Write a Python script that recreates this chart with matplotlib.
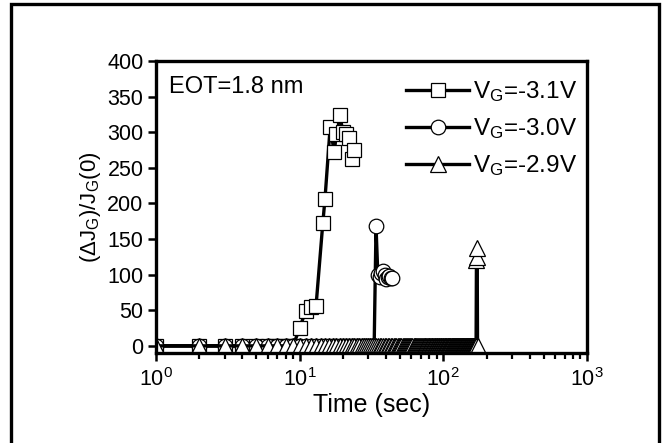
#!/usr/bin/env python3
"""
Gate current change vs. stress time (EOT = 1.8 nm)
"""

import matplotlib.pyplot as plt
from matplotlib.patches import Rectangle

plt.rcParams['font.family'] = ['Liberation Sans', 'DejaVu Sans']
plt.rcParams['mathtext.fontset'] = 'custom'
plt.rcParams['mathtext.rm'] = 'Liberation Sans'
plt.rcParams['mathtext.it'] = 'Liberation Sans'

# V_G = -3.1 V (squares)
sq_t = [1, 2, 3, 4, 5, 6, 7, 8, 9, 10, 11, 12, 13, 14.5, 15, 16.3, 17.4, 18,
        19, 20, 21, 22, 23, 24]
sq_y = [0, 0, 0, 0, 0, 0, 0, 0, 0, 25, 49, 55, 56, 173, 206, 307, 272, 297,
        324, 301, 298, 292, 263, 275]

# V_G = -3.0 V (circles): flat baseline sampled each second, then a jump
circ_base_t = list(range(1, 34))
circ_t = circ_base_t + [34, 35, 36, 37, 38, 39, 40, 41, 42, 43, 44]
circ_y = [0] * len(circ_base_t) + [168, 100, 97, 103, 105, 100, 94, 97,
                                   98, 96, 95]

# V_G = -2.9 V (triangles): flat baseline sampled each second, then a jump
tri_base_t = list(range(1, 170))
tri_t = tri_base_t + [170, 171, 172, 173]
tri_y = [0] * len(tri_base_t) + [120, 125, 137, 0]

labels = [r'$\mathregular{V_G}$=-3.1V', r'$\mathregular{V_G}$=-3.0V',
          r'$\mathregular{V_G}$=-2.9V']

fig = plt.figure(figsize=(6.66, 4.43), dpi=100)
ax = fig.add_axes([156 / 666, 1 - 353 / 443, 431 / 666, 292 / 443])

style = dict(color='black', linewidth=2.4, markerfacecolor='white',
             markeredgecolor='black', markeredgewidth=0.9)
ax.plot(sq_t, sq_y, marker='s', markersize=10, label=labels[0], **style)
ax.plot(circ_t, circ_y, marker='o', markersize=10.5, label=labels[1], **style)
ax.plot(tri_t, tri_y, marker='^', markersize=12, label=labels[2], **style)

ax.set_xscale('log')
ax.set_xlim(1, 1000)
ax.set_ylim(-10, 400)
ax.set_yticks([0, 50, 100, 150, 200, 250, 300, 350, 400])

for sp in ax.spines.values():
    sp.set_linewidth(2.4)
ax.tick_params(which='major', direction='out', length=6, width=1.8,
               labelsize=15.5, pad=3)
ax.tick_params(axis='x', which='major', pad=5)
ax.tick_params(which='minor', direction='out', length=4, width=1.6)

ax.set_xlabel('Time (sec)', fontsize=18, labelpad=1)
ax.set_ylabel(r'($\mathregular{\Delta J_G}$)/$\mathregular{J_G}$(0)',
              fontsize=16, labelpad=3)

ax.text(0.03, 0.91, 'EOT=1.8 nm', transform=ax.transAxes, fontsize=17,
        va='center', ha='left')

ax.legend(loc='upper right', frameon=False, fontsize=17.5, handlelength=2.6,
          handletextpad=0.15, labelspacing=0.5, borderaxespad=0.0,
          bbox_to_anchor=(1.0, 0.97))

fig.patches.append(Rectangle((11 / 666, -0.05), 648 / 666, 1.04,
                             transform=fig.transFigure, fill=False,
                             edgecolor='black', linewidth=2.4))

fig.savefig('out.png', dpi=100)
